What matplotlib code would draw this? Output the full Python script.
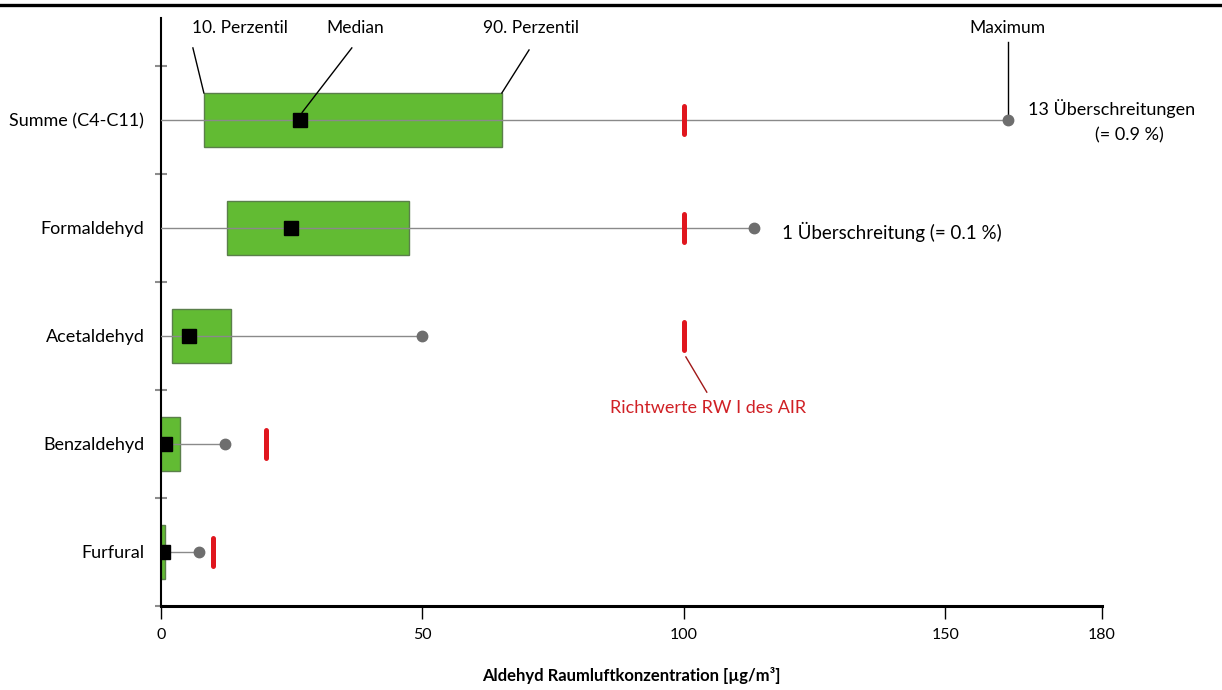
import matplotlib
matplotlib.use("Agg")
import matplotlib.pyplot as plt
from matplotlib.lines import Line2D

plt.rcParams['font.family'] = ['Lato', 'DejaVu Sans']

# data (µg/m³), top to bottom
categories = ["Summe (C4-C11)", "Formaldehyd", "Acetaldehyd", "Benzaldehyd", "Furfural"]
p10 = [8.2, 12.6, 2.1, 0.0, 0.0]
p90 = [65.2, 47.4, 13.4, 3.6, 0.7]
median = [26.6, 24.9, 5.4, 0.8, 0.4]
maximum = [162, 113.4, 50, 12.2, 7.3]
richtwert = [100, 100, 100, 20, 10]
xticks = [0, 50, 100, 150, 180]

green = "#62BB33"
edge = "#5A7F4A"
red = "#E0161E"
grey = "#6E6E6E"
fs = 12.5

fig = plt.figure(figsize=(12.22, 6.9), dpi=100)
ax = fig.add_axes([161/1222, 1-606/690, 941/1222, 588/690])

n = len(categories)
ypos = [n - 1 - i for i in range(n)]

for i, y in enumerate(ypos):
    # whisker from axis to maximum
    ax.plot([0, maximum[i]], [y, y], color="#8A8A8A", lw=1.0, zorder=3)
    ax.barh(y, p90[i] - p10[i], left=p10[i], height=0.5, color=green,
            edgecolor=edge, lw=1.0, zorder=2)
    ax.plot(maximum[i], y, 'o', color=grey, ms=7.5, zorder=4)
    ax.plot(median[i], y, 's', color="black", ms=9.5, zorder=5)
    ax.plot([richtwert[i], richtwert[i]], [y - 0.13, y + 0.13], color=red,
            lw=3.6, solid_capstyle='round', zorder=4)

ax.set_xlim(0, 180)
ax.set_ylim(-0.5, 4.944)
ax.set_xticks(xticks)
ax.set_xticklabels([str(t) for t in xticks], fontsize=11.5)
ax.set_yticks(ypos)
ax.set_yticklabels(categories, fontsize=13)
ax.set_yticks([y - 0.5 for y in range(n + 1)], minor=True)
ax.tick_params(axis='y', which='major', length=0, pad=12)
ax.tick_params(axis='y', which='minor', length=8.5, width=1.5, color="#8C8C8C",
               direction='inout')
ax.tick_params(axis='x', length=9, width=1, color="black", pad=7)

for s in ['top', 'right']:
    ax.spines[s].set_visible(False)
ax.spines['left'].set_linewidth(1.5)
ax.spines['bottom'].set_linewidth(2.2)

ax.set_xlabel("Aldehyd Raumluftkonzentration [µg/m³]", fontsize=12, fontweight='bold',
              labelpad=18)

# annotations
top = ypos[0]
ax.text(15.1, 4.85, "10. Perzentil", ha='center', va='center', fontsize=fs)
ax.plot([6.1, p10[0]], [4.667, top + 0.25], color="black", lw=1.0, clip_on=False)
ax.text(37.1, 4.85, "Median", ha='center', va='center', fontsize=fs)
ax.plot([36.5, median[0] + 0.4], [4.667, top + 0.07], color="black", lw=1.0, clip_on=False)
ax.text(70.8, 4.85, "90. Perzentil", ha='center', va='center', fontsize=fs)
ax.plot([70.4, p90[0]], [4.648, top + 0.25], color="black", lw=1.0, clip_on=False)
ax.text(maximum[0], 4.85, "Maximum", ha='center', va='center', fontsize=fs)
ax.plot([maximum[0], maximum[0]], [4.72, top + 0.05], color="black", lw=1.0, clip_on=False)

ax.text(181.8, 4.11, "13 Überschreitungen", ha='center', va='center', fontsize=13)
ax.text(185.2, 3.86, "(= 0.9 %)", ha='center', va='center', fontsize=13)
ax.text(118.8, 2.96, "1 Überschreitung (= 0.1 %)", ha='left', va='center', fontsize=13.5)

ax.text(104.6, 1.333, "Richtwerte RW I des AIR", ha='center', va='center', fontsize=13,
        color="#D02025")
ax.plot([100.4, 104.4], [1.806, 1.48], color="#A01818", lw=1.0)

# rule at top of page
fig.add_artist(Line2D([0, 1], [1 - 5/690, 1 - 5/690], color="black", lw=2.4))

fig.savefig("out.png", dpi=100)
